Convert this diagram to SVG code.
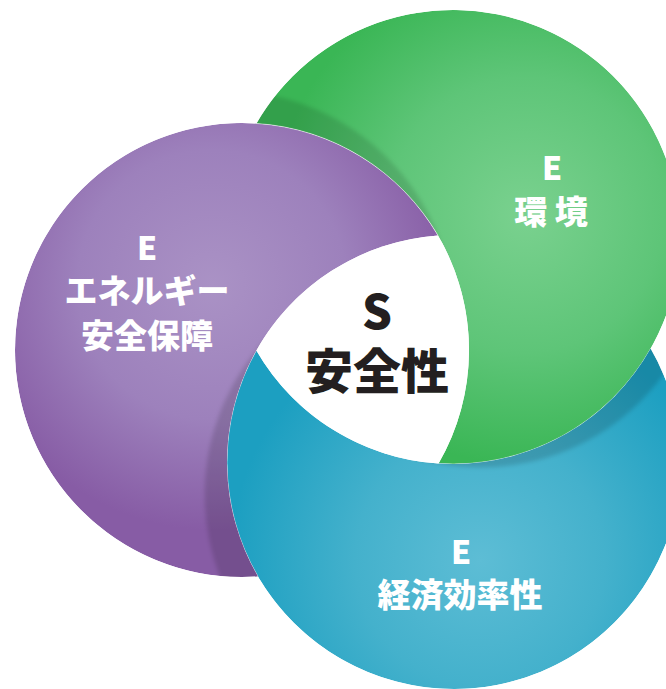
<svg xmlns="http://www.w3.org/2000/svg" width="666" height="689" viewBox="0 0 666 689">
<style>
.lbl{font-family:"Noto Sans CJK JP","Noto Sans",sans-serif;font-weight:900;text-anchor:middle;fill:#ffffff}
.ctr{font-family:"Noto Sans CJK JP","Noto Sans",sans-serif;font-weight:900;text-anchor:middle;fill:#231f20}
.edge{fill:none;stroke:#ffffff;stroke-opacity:0.55;stroke-width:0.9}
</style>
<defs>
<radialGradient id="gP" gradientUnits="userSpaceOnUse" cx="212" cy="285" r="245">
<stop offset="0" stop-color="#aa92c5"/><stop offset="0.55" stop-color="#9d81bc"/><stop offset="1" stop-color="#875ca5"/>
</radialGradient>
<radialGradient id="gG" gradientUnits="userSpaceOnUse" cx="525" cy="215" r="250">
<stop offset="0" stop-color="#7ad18f"/><stop offset="0.55" stop-color="#5ec578"/><stop offset="1" stop-color="#3ab655"/>
</radialGradient>
<radialGradient id="gB" gradientUnits="userSpaceOnUse" cx="480" cy="560" r="250">
<stop offset="0" stop-color="#5dbdd5"/><stop offset="0.5" stop-color="#44b1cc"/><stop offset="1" stop-color="#1c9fc1"/>
</radialGradient>
<clipPath id="cP"><path d="M438.04,235.56 A227,227 0 1 0 257.96,576.44 A227,227 0 0 1 438.04,235.56 Z"/></clipPath>
<clipPath id="cG"><path d="M256.44,123.45 A227,227 0 1 1 438.56,463.55 A227,227 0 0 0 256.44,123.45 Z"/></clipPath>
<clipPath id="cB"><path d="M256.34,350.4 A227,227 0 1 0 650.66,348.6 A227,227 0 0 1 256.34,350.4 Z"/></clipPath>
<filter id="soft" x="-10%" y="-10%" width="120%" height="120%"><feGaussianBlur stdDeviation="2"/></filter>
</defs>

<g id="node-environment">
<g clip-path="url(#cG)">
<circle cx="453" cy="237" r="227" fill="url(#gG)"/>
<circle cx="226.5" cy="317.9" r="227" fill="#000" fill-opacity="0.12" filter="url(#soft)"/>
</g>
<path class="edge" d="M438.56,463.55 A227,227 0 0 0 650.66,348.6"/>
<text class="lbl" x="552" y="180" font-size="32">E</text>
<text class="lbl" x="551" y="224" font-size="33">環 境</text>
</g>

<g id="node-economy">
<g clip-path="url(#cB)">
<circle cx="454" cy="462" r="227" fill="url(#gB)"/>
<circle cx="480.5" cy="240.45" r="227" fill="#000" fill-opacity="0.14" filter="url(#soft)"/>
</g>
<path class="edge" d="M256.34,350.4 A227,227 0 0 0 257.96,576.44"/>
<text class="lbl" x="461" y="564" font-size="32">E</text>
<text class="lbl" x="460" y="607" font-size="33">経済効率性</text>
</g>

<g id="node-energy">
<g clip-path="url(#cP)">
<circle cx="242" cy="350" r="227" fill="url(#gP)"/>
<circle cx="431.6" cy="494.6" r="227" fill="#000" fill-opacity="0.14" filter="url(#soft)"/>
</g>
<path class="edge" d="M256.44,123.45 A227,227 0 0 1 438.04,235.56"/>
<text class="lbl" x="147" y="260" font-size="32">E</text>
<text class="lbl" x="147" y="303" font-size="33">エネルギー</text>
<text class="lbl" x="147" y="348" font-size="33">安全保障</text>
</g>

<g id="node-safety">
<path d="M438.04,235.56 A227,227 0 0 1 438.56,463.55 A227,227 0 0 1 256.34,350.4 A227,227 0 0 1 438.04,235.56 Z" fill="#ffffff"/>
<text class="ctr" x="377" y="329" font-size="47">S</text>
<text class="ctr" x="377" y="389" font-size="48">安全性</text>
</g>
</svg>
